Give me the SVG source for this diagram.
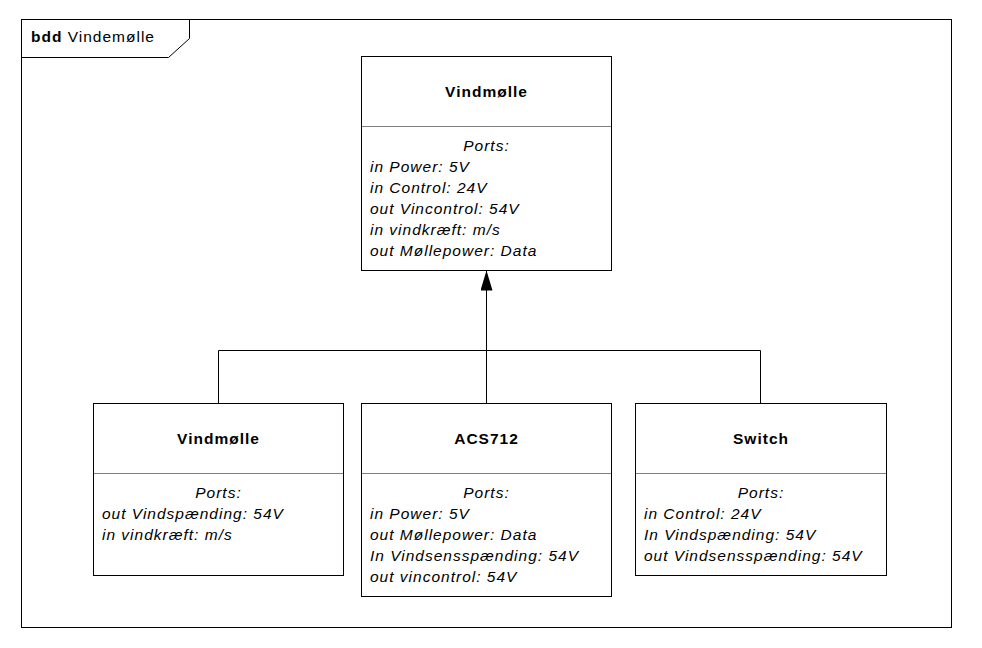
<svg xmlns="http://www.w3.org/2000/svg" width="982" height="648" viewBox="0 0 982 648">
<defs>
<marker id="tri" viewBox="0 0 20 12" refX="20" refY="6" markerWidth="20" markerHeight="12" markerUnits="userSpaceOnUse" orient="auto">
<path d="M0,0 L20,6 L0,12 Z" fill="#000"/>
</marker>
</defs>
<style>
text{font-family:"Liberation Sans",Arial,sans-serif;font-size:15.5px;fill:#000;letter-spacing:1px}
.t{font-weight:bold;text-anchor:middle}
.p{font-style:italic}
.c{text-anchor:middle}
.box{fill:#fff;stroke:#000;stroke-width:1}
.div{stroke:#808080;stroke-width:1}
.ln{fill:none;stroke:#000;stroke-width:1}
</style>
<rect width="982" height="648" fill="#fff"/>
<g id="frame">
<rect x="21.5" y="19.5" width="930" height="608" fill="none" stroke="#000"/>
<path d="M21.5,57.5 H168.5 L189.5,38.5 V19.5" fill="none" stroke="#000"/>
<text x="31" y="42"><tspan font-weight="bold">bdd</tspan> Vindemølle</text>
</g>
<g id="connectors">
<path class="ln" d="M218.5,403 V350.5 H760.5 V403"/>
<path class="ln" d="M486.5,403 V270.5" marker-end="url(#tri)"/>
</g>
<g id="node-top">
<rect class="box" x="361.5" y="56.5" width="250" height="214"/>
<line class="div" x1="362" y1="126.5" x2="611" y2="126.5"/>
<text class="t" x="486.5" y="96.5">Vindmølle</text>
<text class="p c" x="486.5" y="150.5">Ports:</text>
<text class="p" x="370" y="171.5">in Power: 5V</text>
<text class="p" x="370" y="192.5">in Control: 24V</text>
<text class="p" x="370" y="213.5">out Vincontrol: 54V</text>
<text class="p" x="370" y="234.5">in vindkræft: m/s</text>
<text class="p" x="370" y="255.5">out Møllepower: Data</text>
</g>
<g id="node-left">
<rect class="box" x="93.5" y="403.5" width="250" height="172"/>
<line class="div" x1="94" y1="473.5" x2="343" y2="473.5"/>
<text class="t" x="218.5" y="443.5">Vindmølle</text>
<text class="p c" x="218.5" y="497.5">Ports:</text>
<text class="p" x="102" y="518.5">out Vindspænding: 54V</text>
<text class="p" x="102" y="539.5">in vindkræft: m/s</text>
</g>
<g id="node-mid">
<rect class="box" x="361.5" y="403.5" width="250" height="193"/>
<line class="div" x1="362" y1="473.5" x2="611" y2="473.5"/>
<text class="t" x="486.5" y="443.5">ACS712</text>
<text class="p c" x="486.5" y="497.5">Ports:</text>
<text class="p" x="370" y="518.5">in Power: 5V</text>
<text class="p" x="370" y="539.5">out Møllepower: Data</text>
<text class="p" x="370" y="560.5">In Vindsensspænding: 54V</text>
<text class="p" x="370" y="581.5">out vincontrol: 54V</text>
</g>
<g id="node-right">
<rect class="box" x="635.5" y="403.5" width="251" height="172"/>
<line class="div" x1="636" y1="473.5" x2="886" y2="473.5"/>
<text class="t" x="761" y="443.5">Switch</text>
<text class="p c" x="761" y="497.5">Ports:</text>
<text class="p" x="644" y="518.5">in Control: 24V</text>
<text class="p" x="644" y="539.5">In Vindspænding: 54V</text>
<text class="p" x="644" y="560.5">out Vindsensspænding: 54V</text>
</g>
</svg>
